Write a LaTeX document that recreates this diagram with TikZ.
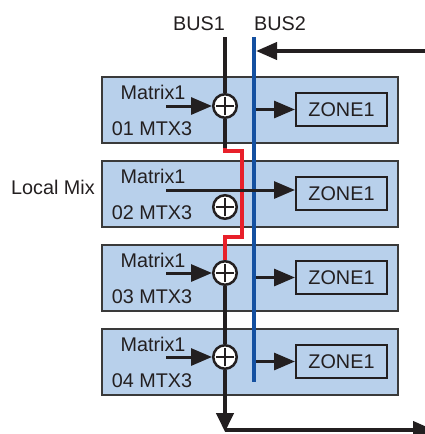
\documentclass[tikz,border=0pt]{standalone}
\usepackage{fontspec}
\setmainfont{Liberation Sans}
\usetikzlibrary{arrows.meta,positioning,calc}
\definecolor{boxfill}{HTML}{B8D0EB}
\definecolor{boxline}{HTML}{3A3A3A}
\definecolor{ink}{HTML}{231F20}
\definecolor{busblue}{HTML}{1450A0}
\definecolor{busred}{HTML}{E8202A}
\tikzset{
  mtxbox/.style={draw=boxline,fill=boxfill,line width=2pt,minimum width=296pt,minimum height=66pt,inner sep=0pt},
  zonebox/.style={draw=ink,line width=2pt,minimum width=91pt,minimum height=33pt,inner sep=0pt,text=ink},
  sumnode/.style={circle,draw=ink,fill=white,line width=2.5pt,minimum size=23.5pt,inner sep=0pt,
    path picture={\draw[ink,line width=2pt] (path picture bounding box.center) +(-9pt,0pt) -- +(9pt,0pt) +(0pt,-9pt) -- +(0pt,9pt);}},
  lbl/.style={inner sep=0pt,text=ink},
  bus/.style={line width=4.2pt,color=ink},
  arr/.style={-{Triangle[length=21pt,width=17pt]},line width=3pt,color=ink}
}
\begin{document}
\begin{tikzpicture}[x=1pt,y=-1pt,font=\fontsize{19.8}{24}\selectfont]
  \useasboundingbox (0,0) rectangle (424,434);
  % matrix channels
  \foreach \i/\y in {1/110,2/194,3/278,4/362} {
    \node[mtxbox] (m\i) at (250,\y) {};
    \node[zonebox] (z\i) at (341.5,\y-0.5) {ZONE1};
    \node[lbl] (t\i) at (153,\y-18) {Matrix1};
    \node[lbl] (c\i) at (152,\y+19) {0\i\ MTX3};
  }
  \node[lbl,anchor=base east] (mix) at ($(m2.west)+(-6,0)$) {Local Mix};
  % summing points
  \node[sumnode] (s1) at (225,106) {};
  \node[sumnode] (s2) at (225,207) {};
  \node[sumnode] (s3) at (225,273) {};
  \node[sumnode] (s4) at (225,357) {};
  % bus labels
  \node[lbl,anchor=base east] (bus1) at (225,30) {BUS1};
  \node[lbl,anchor=base west] (bus2) at (254,30) {BUS2};
  \coordinate (b1top) at (225,37);
  \coordinate (b1cut) at (225,148);
  \coordinate (r1) at (242,151);
  \coordinate (r2) at (242,237);
  \coordinate (b1foot) at (225,432);
  \coordinate (outR) at (434,430);
  \coordinate (b2top) at (254,37);
  \coordinate (b2bot) at (254,382);
  \coordinate (inR) at (430,51);
  \coordinate (b2in) at (256,51);
  \coordinate (mix2) at (166,190);
  % BUS1
  \draw[bus] (b1top) -- (s1.north);
  \draw[bus] (s1.south) -- (b1cut);
  \draw[bus,color=busred,line join=miter] (b1cut) |- (r1) -- (r2) -| (s3.north);
  \draw[bus] (s3.south) -- (s4.north);
  \draw[bus,-{Triangle[length=19pt,width=17pt]}] (s4.south) -- (b1foot);
  \draw[arr,line width=4pt] ($(b1foot)+(0,-2)$) -- (outR);
  % BUS2
  \draw[bus,color=busblue] (b2top) -- (b2bot);
  \draw[arr,line width=4pt] (inR) -- (b2in);
  % inputs and outputs
  \foreach \i in {1,3,4} {
    \draw[arr] ($(s\i.west)+(-46,0)$) -- (s\i.west);
  }
  \draw[arr] (mix2) -- (mix2 -| z2.west);
  \foreach \i in {1,3,4} {
    \draw[arr] ($(b2top |- z\i.west)+(2,0)$) -- (z\i.west);
  }
\end{tikzpicture}
\end{document}
